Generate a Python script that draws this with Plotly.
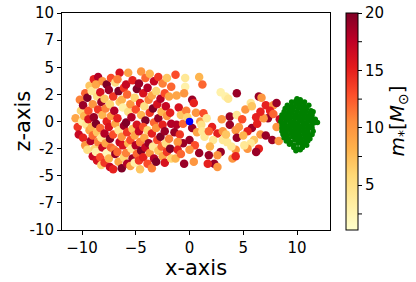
import plotly.graph_objects as go

# ---------------- data ----------------
x_stars = [
    -10.6, -10.4,
    -10.1, -10.3, -10.0, -10.2,
    -9.7, -9.9, -9.8, -9.6, -9.9, -9.7,
    -9.3, -9.5, -9.4, -9.3, -9.5, -9.2, -9.4,
    -8.9, -9.1, -9.0, -8.9, -9.1, -9.0, -8.8, -9.0,
    -8.5, -8.7, -8.6, -8.5, -8.7, -8.6, -8.5, -8.7, -8.6,
    -8.1, -8.3, -8.2, -8.1, -8.3, -8.2, -8.1, -8.3, -8.2,
    -7.7, -7.9, -7.8, -7.7, -7.9, -7.8, -7.7, -7.9,
    -7.3, -7.5, -7.4, -7.3, -7.5, -7.4, -7.3, -7.5, -7.4,
    -6.9, -7.1, -7.0, -6.9, -7.1, -7.0, -6.9, -7.1,
    -6.5, -6.7, -6.6, -6.5, -6.7, -6.6, -6.5, -6.7, -6.6,
    -6.1, -6.3, -6.2, -6.1, -6.3, -6.2, -6.1, -6.3,
    -5.7, -5.9, -5.8, -5.7, -5.9, -5.8, -5.7, -5.9, -5.8,
    -5.3, -5.5, -5.4, -5.3, -5.5, -5.4, -5.3, -5.5,
    -4.9, -5.1, -5.0, -4.9, -5.1, -5.0, -4.9, -5.1,
    -4.5, -4.7, -4.6, -4.5, -4.7, -4.6, -4.5, -4.7, -4.6,
    -4.1, -4.3, -4.2, -4.1, -4.3, -4.2, -4.1, -4.3,
    -3.7, -3.9, -3.8, -3.7, -3.9, -3.8, -3.7, -3.9,
    -3.3, -3.5, -3.4, -3.3, -3.5, -3.4, -3.3, -3.5,
    -2.9, -3.1, -3.0, -2.9, -3.1, -3.0, -2.9, -3.1,
    -2.5, -2.7, -2.6, -2.5, -2.7, -2.6, -2.5,
    -2.1, -2.3, -2.2, -2.1, -2.3, -2.2, -2.1, -2.3,
    -1.7, -1.9, -1.8, -1.7, -1.9, -1.8, -1.7,
    -1.3, -0.4, 0.9, 1.2, -0.4, -0.5, 0.25, 0.4, -1.2, -1.0,
    -0.8, -0.3, 0.6, 1.3, 1.0, 1.1, 1.6, -1.2, -0.6, -1.4,
    -0.9, 0.25, 0.7, 1.2, 1.4, 0.0, -0.6, -1.1, 0.5, 2.1,
    2.6, 2.2, 1.9, 3.1, 3.75, 4.3, 4.6, 4.4, 3.1, 3.5,
    3.0, 3.75, 4.4, 5.2, 5.7, 5.8, 2.9, 3.35, 3.6, 4.4,
    6.45, 6.7, 7.1, 7.8, 8.1, 5.8, 5.4, 6.3, 6.2, 6.6,
    6.0, 5.7, 7.1, 7.7, 7.3, 6.9, 6.6, 7.5, 8.1, 8.3,
    6.45, 6.2, 5.4, 5.1, 4.3, 3.9, 2.9, 2.6, 1.8, 4.0,
    4.3, 2.3, 2.6, 1.7, 0.9, 0.4, -0.5, 0.0, -1.1, -1.3,
    -0.8, 4.9, 5.0, 7.8, 8.4, 3.4, 1.8, -0.2,
]
z_stars = [
    0.3, -0.5,
    1.0, -1.2, 0.0, 2.0,
    2.6, 1.5, 0.5, -0.3, -1.5, -2.2,
    3.3, 2.2, 1.0, -0.8, -2.6, -1.8, 0.2,
    3.9, 2.8, 1.6, 0.4, -0.5, -1.3, -2.5, -3.2,
    4.1, 3.4, 2.3, 1.1, -0.2, -1.0, -1.9, -2.8, -3.6,
    3.7, 2.7, 1.8, 0.6, -0.6, -1.5, -2.4, -3.3, -4.0,
    3.4, 2.1, 1.2, 0.0, -1.1, -2.0, -2.9, -3.8,
    4.0, 2.9, 1.6, 0.5, -0.5, -1.6, -2.4, -3.4, -4.2,
    3.6, 2.3, 1.0, -0.2, -1.2, -2.6, -3.0, -4.4,
    4.5, 3.9, 2.8, 1.8, 0.3, -0.8, -1.9, -2.8, -3.7,
    3.1, 2.0, 1.3, -0.4, -1.4, -2.2, -3.3, -4.3,
    4.5, 3.4, 2.5, 0.9, -0.1, -1.0, -2.0, -2.9, -3.9,
    3.8, 1.6, 0.4, -0.7, -1.7, -2.5, -3.4, -4.1,
    3.0, 2.2, 1.1, -0.3, -1.3, -2.2, -3.0, -3.8,
    4.6, 3.5, 1.7, 0.6, -0.9, -1.9, -2.7, -3.6, -4.4,
    4.0, 2.6, 1.4, 0.1, -0.5, -1.5, -2.4, -3.3,
    4.4, 3.1, 2.0, 0.8, -0.8, -2.0, -2.9, -3.9,
    3.7, 2.4, 1.2, -0.1, -1.1, -2.3, -3.4, -4.3,
    4.1, 2.8, 1.6, 0.3, -0.6, -1.7, -2.7, -3.7,
    3.5, 2.1, 0.9, -0.3, -1.4, -2.3, -3.2,
    4.0, 2.6, 1.4, 0.5, -0.9, -2.0, -2.8, -3.8,
    3.2, 2.3, 0.8, -0.2, -1.6, -2.5, -3.4,
    4.3, 4.0, 4.1, 3.4, 3.2, 2.6, 2.0, 1.7, 2.4, 1.3,
    0.6, 1.0, 0.8, 0.75, 0.0, -0.3, 0.3, -0.3, -0.2, -1.0,
    -1.2, -0.6, -1.0, -0.9, -1.4, -1.7, -2.0, -1.9, -2.2, -0.5,
    -1.1, -1.7, -2.3, -0.9, -0.3, -0.8, -0.5, -1.5, -1.7, -1.9,
    0.2, 0.45, 0.6, 1.1, 1.7, 1.4, 2.7, 2.3, 2.1, 2.6,
    2.3, 2.2, 1.5, 1.5, 1.7, -0.6, -0.9, -0.2, 0.4, -1.2,
    -1.7, -2.0, -1.3, -1.7, 0.3, 0.3, 0.9, 1.0, -0.5, -1.8,
    -2.5, -2.8, -2.5, -2.2, -2.6, -2.3, -2.8, -3.1, -3.1, -3.4,
    -3.2, -3.9, -4.2, -3.9, -2.9, -3.7, -3.9, -2.6, -2.6, -3.4,
    -3.0, 0.2, -1.3, 0.7, 0.2, -1.2, -0.9, 0.4,
]
m_stars = [
    9, 14,
    6, 17, 3, 11,
    12, 19, 8, 4, 15, 10,
    7, 20, 13, 9, 5, 18, 16,
    15, 4, 10, 19, 8, 12, 6, 17,
    18, 9, 5, 14, 20, 7, 11, 3, 16,
    10, 16, 19, 8, 12, 4, 17, 13, 6,
    20, 7, 11, 15, 18, 9, 2, 14,
    13, 19, 6, 10, 16, 20, 12, 8, 17,
    5, 14, 18, 9, 13, 11, 19, 15,
    16, 11, 20, 7, 15, 4, 17, 12, 9,
    14, 8, 3, 19, 10, 16, 6, 20,
    9, 17, 12, 5, 20, 14, 8, 11, 18,
    15, 10, 18, 7, 13, 4, 19, 9,
    20, 6, 13, 16, 9, 18, 12, 3,
    10, 19, 15, 8, 17, 11, 20, 14, 7,
    12, 16, 5, 20, 13, 9, 17, 15,
    8, 18, 11, 14, 6, 19, 10, 13,
    17, 9, 20, 12, 15, 4, 18, 11,
    14, 6, 16, 19, 10, 13, 7, 20,
    11, 18, 8, 15, 20, 12, 9,
    7, 13, 17, 10, 19, 5, 14, 16,
    12, 9, 15, 18, 11, 20, 6,
    13, 4, 8, 12, 3, 10, 19, 15, 9, 16,
    7, 11, 10, 13, 10, 5, 4, 18, 12, 19,
    14, 19, 9, 4, 4, 19, 19, 10, 13, 15,
    15, 4, 8, 10, 19, 10, 10, 19, 4, 4,
    10, 19, 4, 10, 4, 7, 3, 3, 4, 19,
    19, 10, 15, 10, 19, 19, 15, 15, 15, 10,
    7, 4, 19, 19, 19, 10, 15, 15, 10, 10,
    15, 19, 10, 4, 10, 4, 19, 10, 19, 10,
    15, 19, 10, 15, 19, 10, 19, 10, 15, 8,
    12, 13, 8, 12, 17, 7, 12, 6,
]

x_cluster = [
    10.0, 10.3,
    9.5, 9.9, 10.3, 10.7,
    9.1, 9.5, 9.9, 10.3, 10.7, 11.1,
    8.9, 9.3, 9.7, 10.1, 10.5, 10.9, 11.3,
    8.8, 9.2, 9.6, 10.0, 10.4, 10.8, 11.2, 11.5,
    8.6, 9.0, 9.4, 9.8, 10.2, 10.6, 11.0, 11.4,
    8.6, 9.0, 9.4, 9.8, 10.2, 10.6, 11.0, 11.4, 11.7,
    8.5, 8.9, 9.3, 9.7, 10.1, 10.5, 10.9, 11.3, 11.7,
    8.6, 9.0, 9.4, 9.8, 10.2, 10.6, 11.0, 11.4, 11.9,
    8.6, 9.0, 9.4, 9.8, 10.2, 10.6, 11.0, 11.4,
    8.6, 9.0, 9.4, 9.8, 10.2, 10.6, 11.0, 11.5,
    8.7, 9.1, 9.5, 9.9, 10.3, 10.7, 11.1, 11.4,
    8.8, 9.2, 9.6, 10.0, 10.4, 10.8, 11.2,
    9.0, 9.4, 9.8, 10.2, 10.6, 11.0,
    9.3, 9.7, 10.1, 10.5, 10.9,
    9.7, 10.1, 10.5,
    9.9, 10.3,
]
z_cluster = [
    2.1, 2.0,
    1.8, 1.9, 1.7, 1.8,
    1.5, 1.4, 1.6, 1.5, 1.4, 1.5,
    1.2, 1.1, 1.3, 1.2, 1.1, 1.2, 1.0,
    0.9, 0.8, 1.0, 0.9, 0.8, 0.9, 0.8, 0.9,
    0.6, 0.5, 0.7, 0.6, 0.5, 0.6, 0.5, 0.6,
    0.3, 0.2, 0.4, 0.3, 0.2, 0.3, 0.2, 0.3, 0.2,
    0.0, -0.1, 0.1, 0.0, -0.1, 0.0, -0.1, 0.0, -0.1,
    -0.3, -0.4, -0.2, -0.3, -0.4, -0.3, -0.4, -0.3, -0.1,
    -0.6, -0.7, -0.5, -0.6, -0.7, -0.6, -0.7, -0.6,
    -0.9, -1.0, -0.8, -0.9, -1.0, -0.9, -1.0, -0.9,
    -1.2, -1.3, -1.1, -1.2, -1.3, -1.2, -1.3, -1.2,
    -1.5, -1.6, -1.4, -1.5, -1.6, -1.5, -1.6,
    -1.8, -1.9, -1.7, -1.8, -1.9, -1.8,
    -2.1, -2.2, -2.0, -2.1, -2.2,
    -2.4, -2.5, -2.4,
    -2.7, -2.6,
]

x_center = [0.0]
z_center = [0.0]

x_ticks = [-10, -5, 0, 5, 10]
z_tickvals = [-10, -7.5, -5, -2.5, 0, 2.5, 5, 7.5, 10]
z_ticktext = ["-10", "-7", "-5", "-2", "0", "2", "5", "7", "10"]
cb_labels = [5, 10, 15, 20]
cb_minor = [2.5, 7.5, 12.5, 17.5]
m_min, m_max = 1.1, 20

# matplotlib YlOrRd
ylorrd = [
    [0.0, "#ffffcc"], [0.125, "#ffeda0"], [0.25, "#fed976"], [0.375, "#feb24c"],
    [0.5, "#fd8d3c"], [0.625, "#fc4e2a"], [0.75, "#e31a1c"], [0.875, "#bd0026"],
    [1.0, "#800026"],
]

FONT = "DejaVu Sans"
W, H = 416, 282
L, R, T, B = 62, 86, 13, 52
plot_w = W - L - R
cb_left, cb_thick = 346, 12

fig = go.Figure()
fig.add_trace(go.Scatter(
    x=x_stars, y=z_stars, mode="markers",
    marker=dict(
        size=8.5, color=m_stars, colorscale=ylorrd, cmin=m_min, cmax=m_max,
        line=dict(width=0),
        colorbar=dict(
            x=(cb_left - L) / plot_w, xanchor="left", y=0.5, yanchor="middle",
            thickness=cb_thick, lenmode="pixels", len=H - T - B, xpad=0, ypad=0,
            outlinewidth=1, outlinecolor="black",
            ticks="outside", ticklen=4, tickcolor="black",
            tickvals=cb_labels,
            tickfont=dict(family=FONT, size=15, color="black"),
        ),
    ),
    showlegend=False, hoverinfo="skip",
))
fig.add_trace(go.Scatter(
    x=x_cluster, y=z_cluster, mode="markers",
    marker=dict(size=5.5, color="#008000", line=dict(width=0)),
    showlegend=False, hoverinfo="skip",
))
fig.add_trace(go.Scatter(
    x=x_center, y=z_center, mode="markers",
    marker=dict(size=7.5, color="#0000ff", line=dict(width=0)),
    showlegend=False, hoverinfo="skip",
))

# minor ticks on the colorbar
x0 = (cb_left + cb_thick - L) / plot_w
x1 = (cb_left + cb_thick + 4 - L) / plot_w
for v in cb_minor:
    yp = (v - m_min) / (m_max - m_min)
    fig.add_shape(type="line", xref="paper", yref="paper", x0=x0, x1=x1, y0=yp, y1=yp,
                  line=dict(color="black", width=1))

axis_common = dict(
    showgrid=False, zeroline=False, showline=True, linecolor="black", linewidth=1,
    mirror=True, ticks="outside", ticklen=4, tickcolor="black",
    tickfont=dict(family=FONT, size=15, color="black"),
)
fig.update_xaxes(range=[-11.86, 13.07], tickvals=x_ticks, **axis_common)
fig.update_yaxes(range=[-10, 10], tickvals=z_tickvals, ticktext=z_ticktext, **axis_common)

fig.update_layout(
    width=W, height=H,
    margin=dict(l=L, r=R, t=T, b=B, autoexpand=False),
    paper_bgcolor="white", plot_bgcolor="white",
    font=dict(family=FONT, color="black"),
    annotations=[
        dict(text="x-axis", xref="paper", yref="paper", x=0.5, y=0,
             yshift=-38, yanchor="middle", showarrow=False, borderpad=0,
             font=dict(family=FONT, size=21, color="black")),
        dict(text="z-axis", xref="paper", yref="paper", x=0, y=0.5,
             xshift=-40, xanchor="center", textangle=-90, showarrow=False,
             font=dict(family=FONT, size=21, color="black")),
        dict(text="<i>m</i><sub>*</sub>[<i>M</i><sub>⊙</sub>]", xref="paper", yref="paper",
             x=(397 - L) / plot_w, y=0.5, xanchor="center", yanchor="middle",
             textangle=-90, showarrow=False,
             font=dict(family=FONT, size=20, color="black")),
    ],
)

fig.write_html("out.html", config={"displayModeBar": False},
               post_script="document.body.style.margin='0';document.body.style.padding='0';")
